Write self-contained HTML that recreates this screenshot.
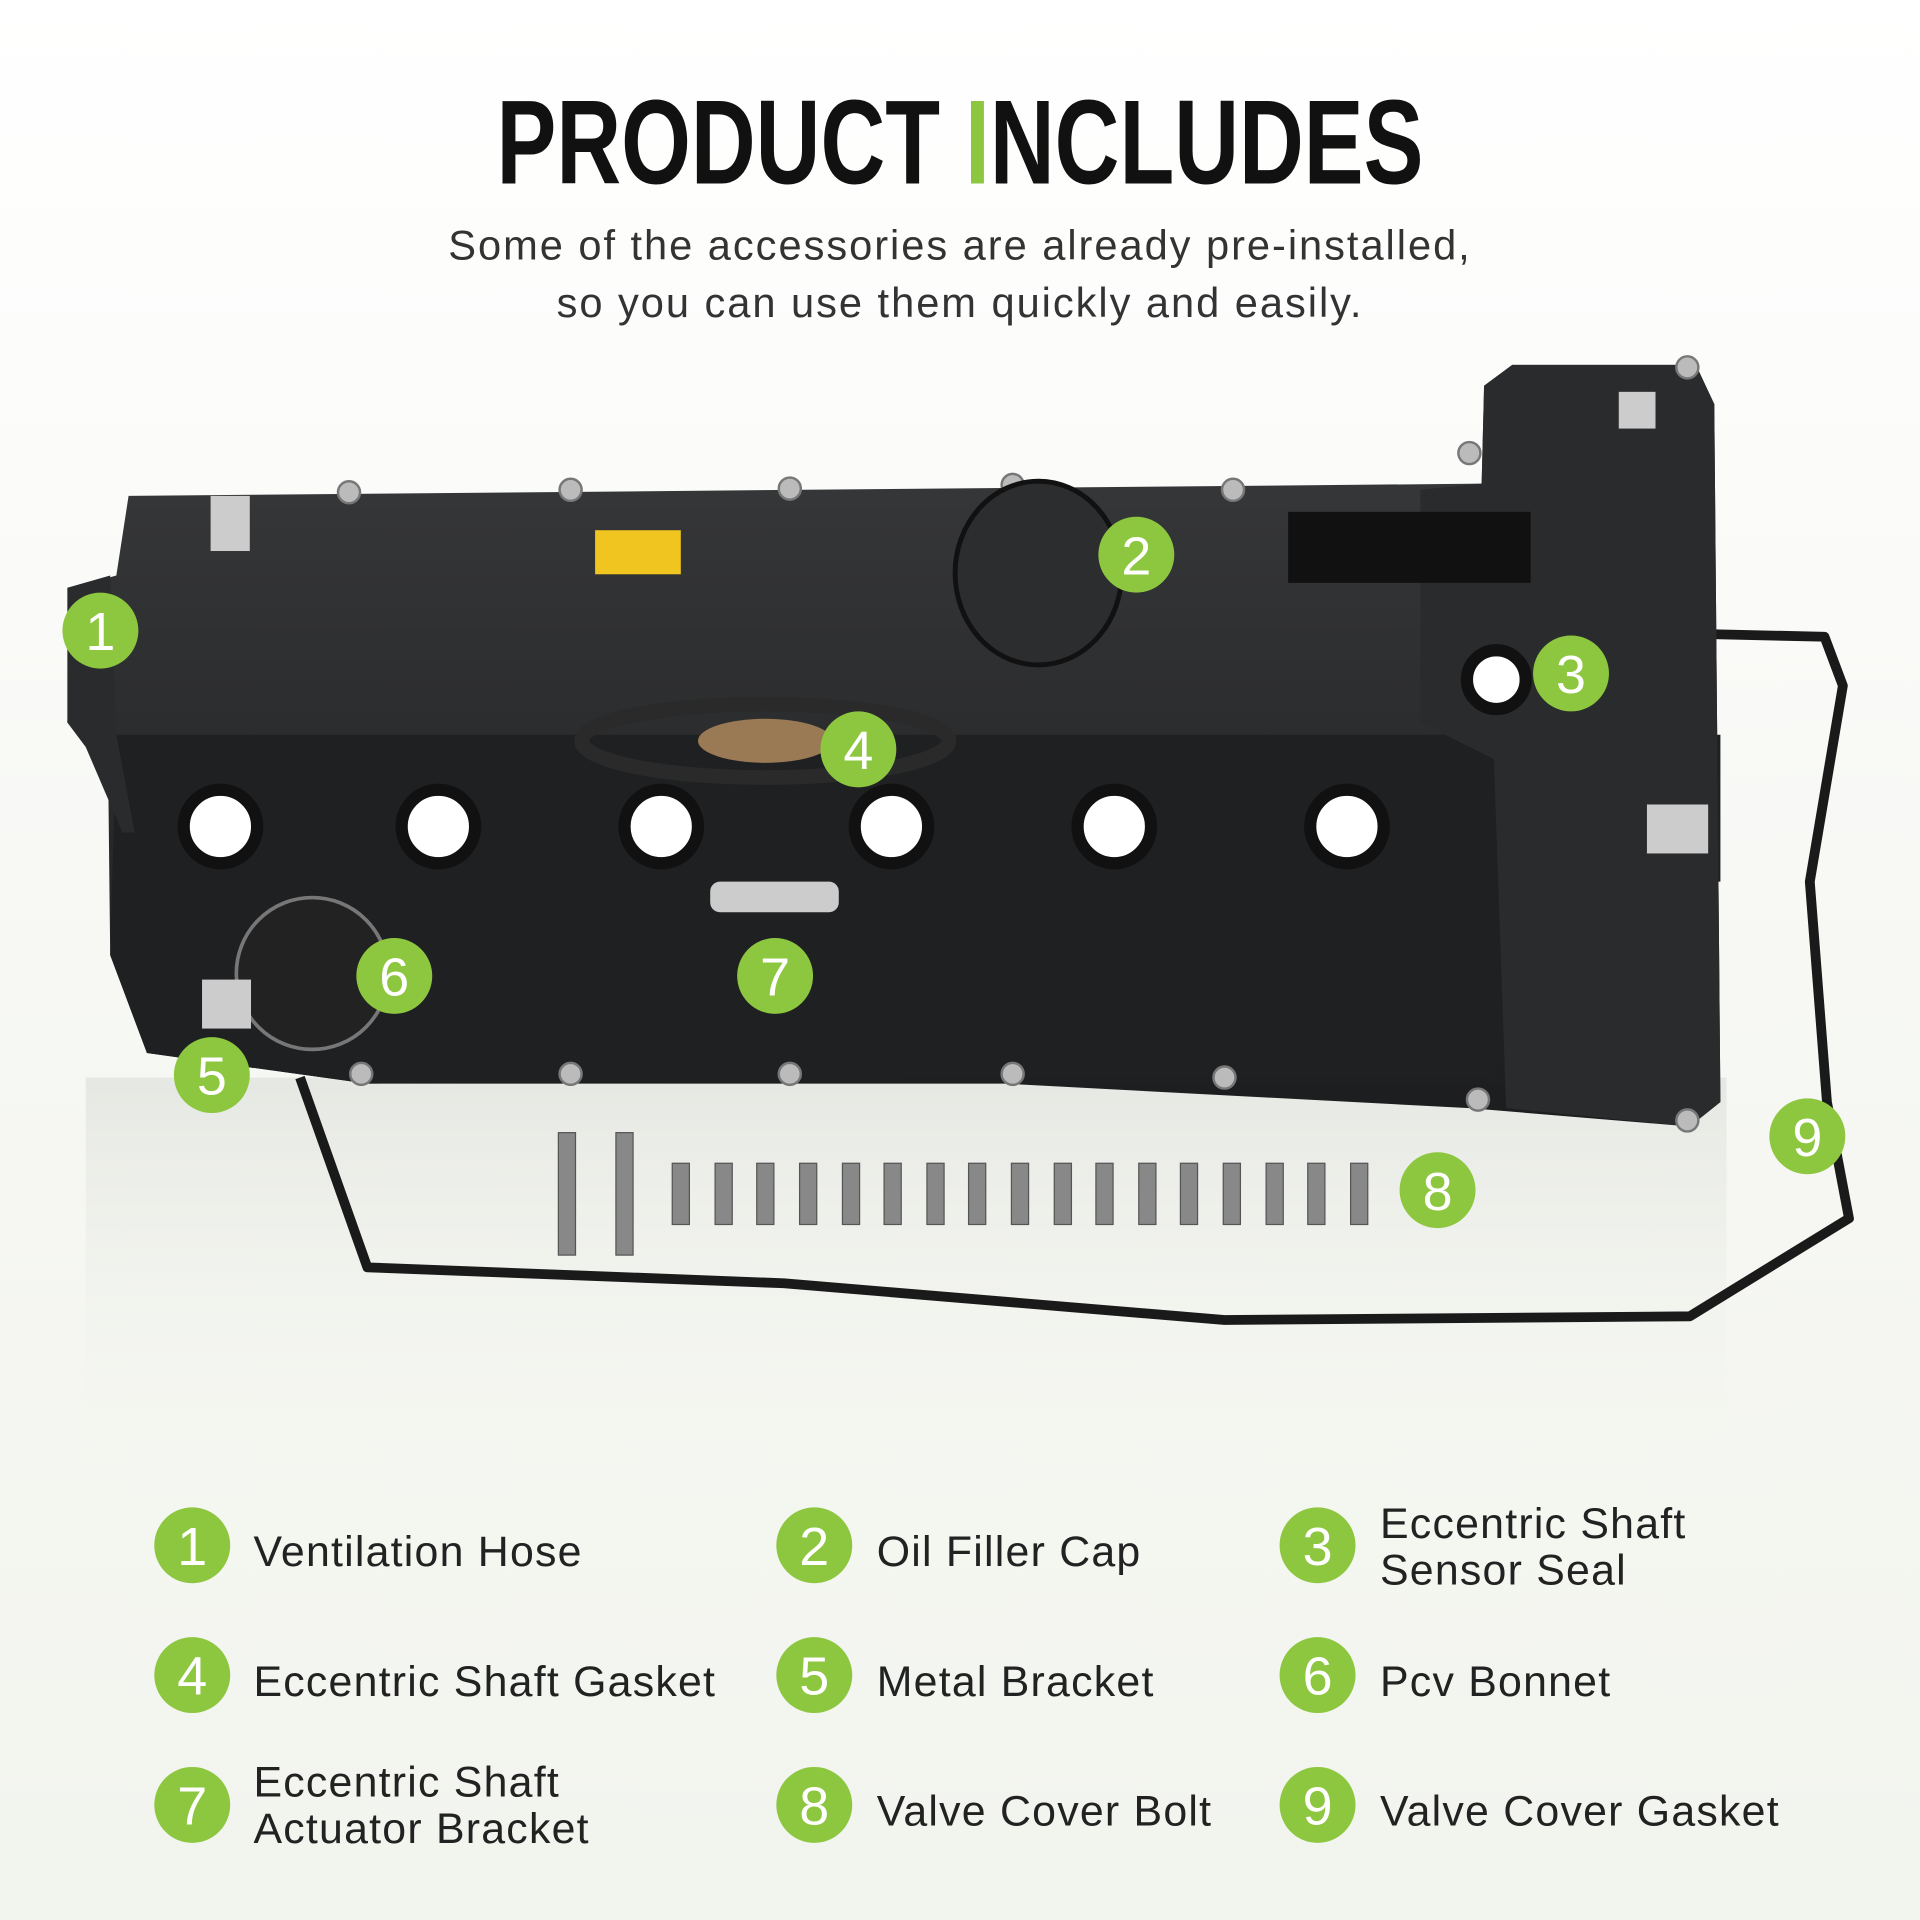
<!DOCTYPE html>
<html><head><meta charset="utf-8"><style>
html,body{margin:0;padding:0;background:#f6f7f3}
svg{display:block}
</style></head><body>
<svg width="1920" height="1920" viewBox="0 0 1568 1568" xmlns="http://www.w3.org/2000/svg">
<defs>
<linearGradient id="bg" x1="0" y1="0" x2="0" y2="1"><stop offset="0" stop-color="#ffffff"/><stop offset="0.5" stop-color="#f7f8f4"/><stop offset="1" stop-color="#f2f4ee"/></linearGradient>
<linearGradient id="body" x1="0" y1="0" x2="0" y2="1"><stop offset="0" stop-color="#3a3b3d"/><stop offset="1" stop-color="#1c1d1f"/></linearGradient>
<linearGradient id="refl" x1="0" y1="0" x2="0" y2="1"><stop offset="0" stop-color="#e4e6e1" stop-opacity="0.9"/><stop offset="1" stop-color="#f2f4ee" stop-opacity="0"/></linearGradient>
</defs>
<rect width="1568" height="1568" fill="url(#bg)"/>
<rect x="70" y="880" width="1340" height="320" fill="url(#refl)"/>
<!-- title -->
<text x="784" y="150" text-anchor="middle" font-family="Liberation Sans Narrow, Liberation Sans, sans-serif" font-weight="bold" font-size="98" textLength="757" lengthAdjust="spacingAndGlyphs" fill="#111">PRODUCT <tspan fill="#8dc63f">I</tspan>NCLUDES</text>
<text x="784" y="212" text-anchor="middle" font-family="Liberation Sans, sans-serif" font-size="34" fill="#333" letter-spacing="1.6">Some of the accessories are already pre-installed,</text>
<text x="784" y="259" text-anchor="middle" font-family="Liberation Sans, sans-serif" font-size="34" fill="#333" letter-spacing="1.6">so you can use them quickly and easily.</text>

<!-- gasket -->
<path d="M245 880 L300 1035 L640 1048 L1000 1078 L1380 1075 L1510 995 L1492 900 L1478 720 L1505 560 L1490 520 L1400 518" fill="none" stroke="#1a1a1a" stroke-width="8" stroke-linejoin="round"/>
<!-- valve cover body -->
<path d="M105 405 L1210 395 L1212 315 L1235 298 L1385 298 L1400 330 L1405 900 L1380 920 L1200 905 L820 885 L300 885 L120 860 L90 780 L88 600 L55 590 L60 480 L95 470 Z" fill="url(#body)"/>
<path d="M95 600 L1405 600 L1405 720 L1240 720 L1220 880 L820 880 L300 885 L120 860 L90 780 Z" fill="#1f2022"/>
<path d="M1212 315 L1235 298 L1385 298 L1400 330 L1405 900 L1380 920 L1230 905 L1220 620 L1160 590 L1160 400 L1210 395 Z" fill="#2a2b2d"/>
<!-- bolts on edge -->
<g fill="#bbb" stroke="#777" stroke-width="2">
<circle cx="285" cy="402" r="9"/><circle cx="466" cy="400" r="9"/><circle cx="645" cy="399" r="9"/><circle cx="827" cy="396" r="9"/><circle cx="1007" cy="400" r="9"/><circle cx="1200" cy="370" r="9"/><circle cx="1378" cy="300" r="9"/>
<circle cx="295" cy="877" r="9"/><circle cx="466" cy="877" r="9"/><circle cx="645" cy="877" r="9"/><circle cx="827" cy="877" r="9"/><circle cx="1000" cy="880" r="9"/><circle cx="1207" cy="898" r="9"/><circle cx="1378" cy="915" r="9"/>
</g>
<!-- ports -->
<g fill="#fff" stroke="#111" stroke-width="10">
<circle cx="180" cy="675" r="30"/><circle cx="358" cy="675" r="30"/><circle cx="540" cy="675" r="30"/><circle cx="728" cy="675" r="30"/><circle cx="910" cy="675" r="30"/><circle cx="1100" cy="675" r="30"/>
<circle cx="1222" cy="555" r="24"/>
</g>
<!-- oil cap -->
<ellipse cx="848" cy="468" rx="68" ry="75" fill="#2c2d2f" stroke="#111" stroke-width="4"/>
<!-- gasket ring -->
<ellipse cx="625" cy="605" rx="150" ry="30" fill="none" stroke="#2a2a2a" stroke-width="12"/>
<ellipse cx="625" cy="605" rx="55" ry="18" fill="#9a7a55"/>
<!-- pcv -->
<circle cx="255" cy="795" r="62" fill="#222" stroke="#777" stroke-width="3"/>
<!-- label -->
<rect x="1052" y="418" width="198" height="58" fill="#111"/>
<rect x="486" y="433" width="70" height="36" fill="#f0c51f"/>
<!-- brackets -->
<rect x="580" y="720" width="105" height="25" rx="8" fill="#ccc"/>
<rect x="165" y="800" width="40" height="40" fill="#ccc"/>
<rect x="1345" y="657" width="50" height="40" fill="#ccc"/>
<rect x="172" y="405" width="32" height="45" fill="#ccc"/>
<rect x="1322" y="320" width="30" height="30" fill="#ccc"/>
<!-- left hose -->
<path d="M55 480 L90 470 L95 600 L110 680 L100 680 L70 610 L55 590 Z" fill="#2a2b2d"/>
<!-- bolts row -->
<g fill="#888" stroke="#555" stroke-width="1">
<rect x="456" y="925" width="14" height="100"/><rect x="503" y="925" width="14" height="100"/>
<rect x="549" y="950" width="14" height="50"/><rect x="584" y="950" width="14" height="50"/><rect x="618" y="950" width="14" height="50"/><rect x="653" y="950" width="14" height="50"/><rect x="688" y="950" width="14" height="50"/><rect x="722" y="950" width="14" height="50"/><rect x="757" y="950" width="14" height="50"/><rect x="791" y="950" width="14" height="50"/><rect x="826" y="950" width="14" height="50"/><rect x="861" y="950" width="14" height="50"/><rect x="895" y="950" width="14" height="50"/><rect x="930" y="950" width="14" height="50"/><rect x="964" y="950" width="14" height="50"/><rect x="999" y="950" width="14" height="50"/><rect x="1034" y="950" width="14" height="50"/><rect x="1068" y="950" width="14" height="50"/><rect x="1103" y="950" width="14" height="50"/>
</g>
<!-- callouts -->
<g font-family="Liberation Sans, sans-serif" font-size="44" fill="#fff" text-anchor="middle">
<g fill="#8dc63f"><circle cx="82" cy="515" r="31"/><circle cx="928" cy="453" r="31"/><circle cx="1283" cy="550" r="31"/><circle cx="701" cy="612" r="31"/><circle cx="173" cy="878" r="31"/><circle cx="322" cy="797" r="31"/><circle cx="633" cy="797" r="31"/><circle cx="1174" cy="972" r="31"/><circle cx="1476" cy="928" r="31"/></g>
<text x="82" y="531">1</text><text x="928" y="469">2</text><text x="1283" y="566">3</text><text x="701" y="628">4</text><text x="173" y="894">5</text><text x="322" y="813">6</text><text x="633" y="813">7</text><text x="1174" y="988">8</text><text x="1476" y="944">9</text>
</g>
<!-- legend -->
<g fill="#8dc63f"><circle cx="157" cy="1262" r="31"/><circle cx="665" cy="1262" r="31"/><circle cx="1076" cy="1262" r="31"/><circle cx="157" cy="1368" r="31"/><circle cx="665" cy="1368" r="31"/><circle cx="1076" cy="1368" r="31"/><circle cx="157" cy="1474" r="31"/><circle cx="665" cy="1474" r="31"/><circle cx="1076" cy="1474" r="31"/></g>
<g font-family="Liberation Sans, sans-serif" font-size="44" fill="#fff" text-anchor="middle">
<text x="157" y="1278">1</text><text x="665" y="1278">2</text><text x="1076" y="1278">3</text><text x="157" y="1384">4</text><text x="665" y="1384">5</text><text x="1076" y="1384">6</text><text x="157" y="1490">7</text><text x="665" y="1490">8</text><text x="1076" y="1490">9</text>
</g>
<g font-family="Liberation Sans, sans-serif" font-size="35" fill="#222" letter-spacing="1">
<text x="207" y="1279">Ventilation Hose</text>
<text x="716" y="1279">Oil Filler Cap</text>
<text x="1127" y="1256">Eccentric Shaft</text><text x="1127" y="1294">Sensor Seal</text>
<text x="207" y="1385">Eccentric Shaft Gasket</text>
<text x="716" y="1385">Metal Bracket</text>
<text x="1127" y="1385">Pcv Bonnet</text>
<text x="207" y="1467">Eccentric Shaft</text><text x="207" y="1505">Actuator Bracket</text>
<text x="716" y="1491">Valve Cover Bolt</text>
<text x="1127" y="1491">Valve Cover Gasket</text>
</g>
</svg>
</body></html>
